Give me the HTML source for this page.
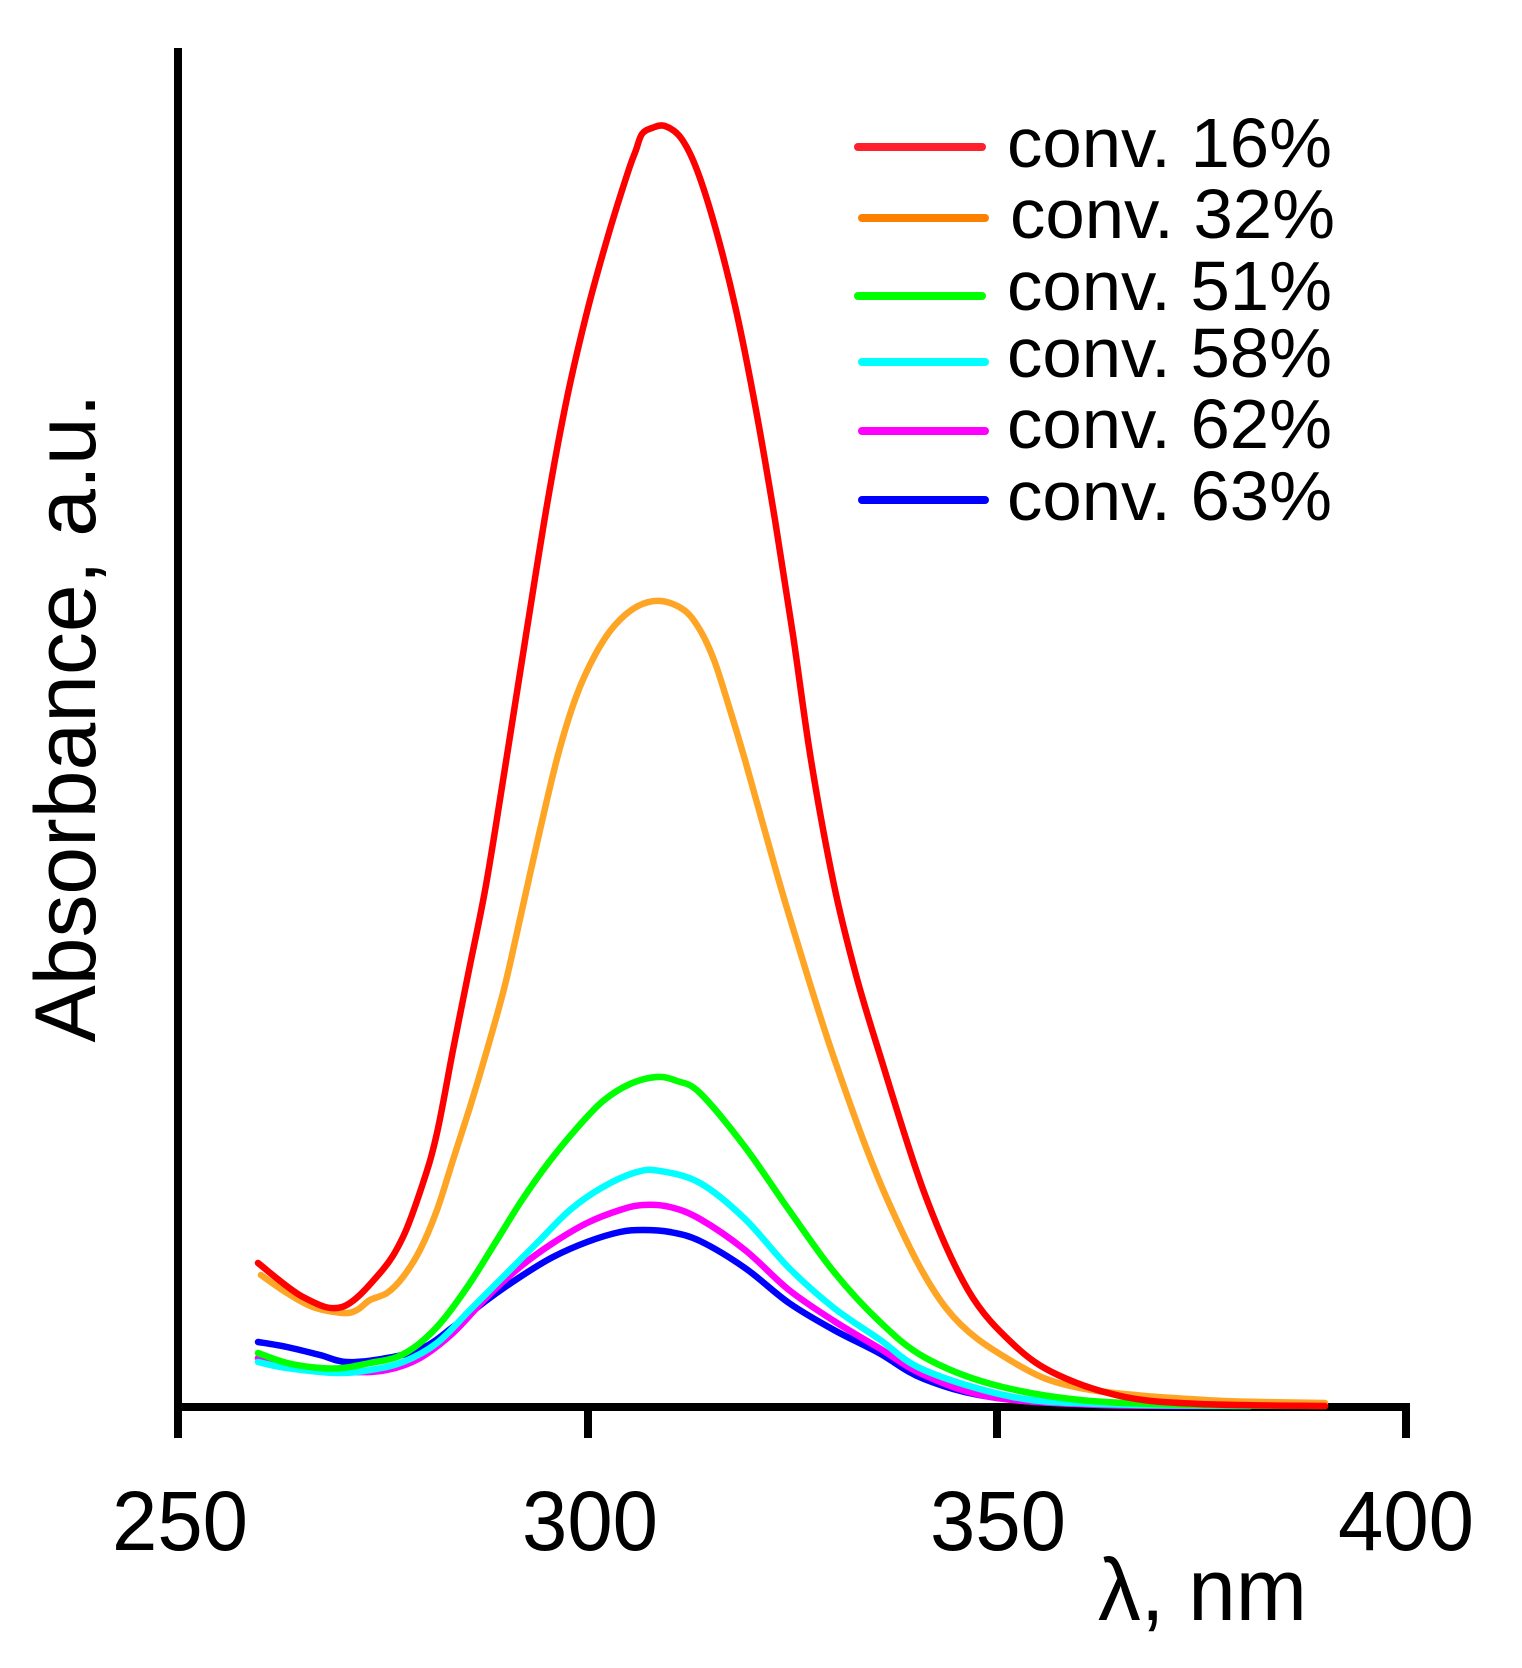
<!DOCTYPE html>
<html><head><meta charset="utf-8"><style>html,body{margin:0;padding:0;background:#fff}svg{display:block}</style></head>
<body>
<svg id="s" xmlns="http://www.w3.org/2000/svg" width="1522" height="1668" viewBox="0 0 1522 1668">
<rect width="1522" height="1668" fill="#fff"/>
<g stroke="#000" stroke-width="8" fill="none">
<line x1="178" y1="48" x2="178" y2="1411"/>
<line x1="174" y1="1407" x2="1410" y2="1407"/>
<line x1="588" y1="1407" x2="588" y2="1438"/>
<line x1="997" y1="1407" x2="997" y2="1438"/>
<line x1="1406" y1="1407" x2="1406" y2="1438"/>
<line x1="178" y1="1407" x2="178" y2="1438"/>
</g>
<g id="curves" fill="none" stroke-width="6.5" stroke-linejoin="round" stroke-linecap="round"></g>
<g stroke-width="8" stroke-linecap="round">
<line x1="858" y1="147" x2="982" y2="147" stroke="#ff1f2d"/>
<line x1="862" y1="218" x2="985" y2="218" stroke="#ff8000"/>
<line x1="858" y1="296" x2="982" y2="296" stroke="#00ff00"/>
<line x1="862" y1="362" x2="985" y2="362" stroke="#00ffff"/>
<line x1="862" y1="431" x2="985" y2="431" stroke="#ff00ff"/>
<line x1="862" y1="500" x2="985" y2="500" stroke="#0000ff"/>
</g>
<g font-family="Liberation Sans, sans-serif" font-size="70" fill="#000">
<text x="1007" y="167" textLength="325" lengthAdjust="spacingAndGlyphs">conv. 16%</text>
<text x="1010" y="238" textLength="325" lengthAdjust="spacingAndGlyphs">conv. 32%</text>
<text x="1007" y="310" textLength="325" lengthAdjust="spacingAndGlyphs">conv. 51%</text>
<text x="1007" y="377" textLength="325" lengthAdjust="spacingAndGlyphs">conv. 58%</text>
<text x="1007" y="448" textLength="325" lengthAdjust="spacingAndGlyphs">conv. 62%</text>
<text x="1007" y="520" textLength="325" lengthAdjust="spacingAndGlyphs">conv. 63%</text>
</g>
<g font-family="Liberation Sans, sans-serif" font-size="84" fill="#000" text-anchor="middle">
<text x="180" y="1550" textLength="136" lengthAdjust="spacingAndGlyphs">250</text>
<text x="590" y="1550" textLength="136" lengthAdjust="spacingAndGlyphs">300</text>
<text x="998" y="1550" textLength="136" lengthAdjust="spacingAndGlyphs">350</text>
<text x="1406" y="1550" textLength="136" lengthAdjust="spacingAndGlyphs">400</text>
</g>
<text x="1098" y="1620" font-family="Liberation Sans, sans-serif" font-size="88" textLength="209" lengthAdjust="spacingAndGlyphs">λ, nm</text>
<text transform="translate(95,718) rotate(-90)" text-anchor="middle" font-family="Liberation Sans, sans-serif" font-size="86" textLength="649" lengthAdjust="spacingAndGlyphs">Absorbance, a.u.</text>
</svg>
<script>
var data={
"#ff0000":[[258,1263],[303,1297],[342,1307],[380,1273],[403,1237],[423,1183],[437,1133],[453,1050],[469,970],[486,885],[505,768],[526,635],[547,505],[567,398],[587,312],[608,236],[628,172],[636,150],[642,134],[652,128],[665,126],[681,138],[697,170],[716,230],[736,310],[756,410],[775,520],[793,635],[811,760],[834,885],[856,975],[879,1052],[924,1192],[968,1290],[1013,1344],[1058,1375],[1125,1397],[1200,1404],[1325,1406]],
"#ffa526":[[261,1275],[287,1293],[313,1307],[343,1313],[357,1310],[370,1300],[387,1293],[403,1277],[420,1250],[437,1210],[453,1160],[470,1107],[487,1050],[505,985],[522,910],[540,830],[558,755],[576,697],[595,655],[615,625],[638,606],[661,601],[684,610],[700,630],[714,660],[727,700],[745,760],[766,835],[789,915],[834,1058],[888,1201],[946,1308],[1013,1362],[1080,1388],[1205,1400],[1325,1403]],
"#00ff00":[[258,1353],[287,1363],[320,1368],[343,1368],[370,1363],[397,1357],[420,1343],[443,1320],[470,1283],[497,1240],[522,1200],[549,1162],[577,1128],[603,1101],[630,1084],[657,1077],[677,1081],[700,1093],[745,1147],[789,1210],[834,1272],[879,1321],[924,1357],[991,1384],[1080,1400],[1200,1405],[1325,1406]],
"#00ffff":[[258,1362],[287,1368],[337,1373],[370,1370],[403,1362],[437,1343],[470,1310],[503,1277],[537,1243],[570,1210],[603,1187],[637,1172],[660,1171],[700,1183],[745,1219],[789,1268],[834,1308],[879,1339],[924,1370],[1013,1397],[1100,1404],[1250,1406]],
"#ff00ff":[[258,1358],[303,1368],[353,1372],[387,1370],[420,1358],[453,1333],[487,1297],[520,1267],[553,1243],[587,1223],[620,1210],[643,1205],[670,1207],[700,1219],[745,1250],[789,1290],[834,1321],[879,1348],[924,1375],[991,1397],[1100,1405],[1250,1406]],
"#0000ff":[[258,1342],[287,1347],[320,1355],[347,1362],[387,1358],[423,1348],[453,1327],[487,1300],[520,1277],[553,1257],[587,1242],[620,1232],[643,1230],[670,1232],[700,1241],[745,1268],[789,1303],[834,1330],[879,1353],[924,1379],[991,1397],[1100,1405],[1250,1406]]};
var order=["#0000ff","#ff00ff","#00ffff","#00ff00","#ffa526","#ff0000"];
var g=document.getElementById("curves");
order.forEach(function(c){var p=data[c];var d="M"+p[0][0]+","+p[0][1];
for(var i=0;i<p.length-1;i++){var p0=p[i-1]||p[i],p1=p[i],p2=p[i+1],p3=p[i+2]||p2;
var c1x=p1[0]+(p2[0]-p0[0])/6,c1y=p1[1]+(p2[1]-p0[1])/6,c2x=p2[0]-(p3[0]-p1[0])/6,c2y=p2[1]-(p3[1]-p1[1])/6;
d+=" C"+c1x.toFixed(1)+","+c1y.toFixed(1)+" "+c2x.toFixed(1)+","+c2y.toFixed(1)+" "+p2[0]+","+p2[1];}
var e=document.createElementNS("http://www.w3.org/2000/svg","path");e.setAttribute("d",d);e.setAttribute("stroke",c);g.appendChild(e);});
</script>
</body></html>
